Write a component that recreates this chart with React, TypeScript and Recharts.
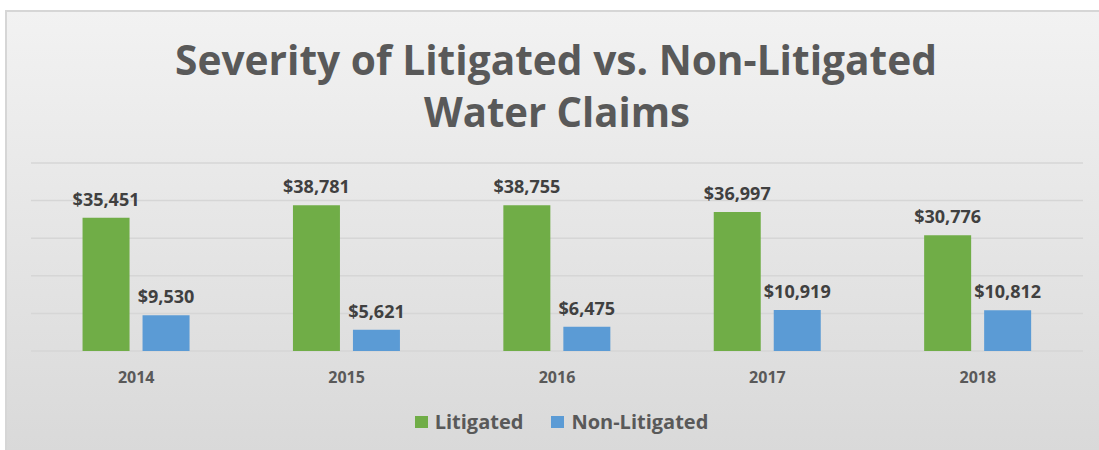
import React from 'react';
import { BarChart, Bar, XAxis, YAxis, CartesianGrid, Legend, LabelList } from 'recharts';

const YEARS = ['2014', '2015', '2016', '2017', '2018'];
const LITIGATED = [35451, 38781, 38755, 36997, 30776];
const NON_LITIGATED = [9530, 5621, 6475, 10919, 10812];
const Y_TICKS = [0, 10000, 20000, 30000, 40000, 50000];

const data = YEARS.map((year, i) => ({ year, litigated: LITIGATED[i], nonLitigated: NON_LITIGATED[i] }));

const FONT = '"Open Sans", "Noto Sans", sans-serif';
const fmt = (v: any) => `$${Number(v).toLocaleString('en-US')}`;

const LegendContent = () => (
  <div style={{ display: 'flex', justifyContent: 'center', alignItems: 'center', fontFamily: FONT, fontWeight: 700, fontSize: 20, color: '#595959' }}>
    <span style={{ display: 'inline-block', width: 13, height: 12, background: '#70ad47', marginRight: 7 }} />
    <span style={{ marginRight: 28 }}>Litigated</span>
    <span style={{ display: 'inline-block', width: 13, height: 12, background: '#5b9bd5', marginRight: 7 }} />
    <span>Non-Litigated</span>
  </div>
);

export default function App() {
  return (
    <div style={{ position: 'relative', width: 1099, height: 450, background: '#fff', overflow: 'hidden' }}>
      <style>{'body{margin:0}'}</style>
      <div style={{ position: 'absolute', left: 5, top: 10, width: 1094, height: 440, borderTop: '2px solid #d6d6d6', borderLeft: '2px solid #d6d6d6', background: 'linear-gradient(#f2f2f2, #d9d9d9)' }} />
      <svg width={1099} height={150} style={{ position: 'absolute', left: 0, top: 0 }}>
        <text x={556} y={75} textAnchor="middle" textLength={762} lengthAdjust="spacingAndGlyphs" style={{ fontFamily: FONT, fontWeight: 700, fontSize: 42, fill: '#595959' }}>Severity of Litigated vs. Non-Litigated</text>
        <text x={557} y={127} textAnchor="middle" textLength={266} lengthAdjust="spacingAndGlyphs" style={{ fontFamily: FONT, fontWeight: 700, fontSize: 42, fill: '#595959' }}>Water Claims</text>
      </svg>
      <div style={{ position: 'absolute', left: 0, top: 0 }}>
        <BarChart width={1099} height={450} data={data} margin={{ top: 163, right: 16, left: 31, bottom: 32 }} barGap={13} barCategoryGap="24.5%">
          <CartesianGrid horizontal vertical={false} stroke="#d6d6d6" strokeWidth={1.5} />
          <XAxis dataKey="year" axisLine={false} tickLine={false} height={40} tick={{ fontFamily: FONT, fontWeight: 700, fontSize: 16, fill: '#595959' }} dy={13} />
          <YAxis hide domain={[0, 50000]} ticks={Y_TICKS} />
          <Legend content={<LegendContent />} wrapperStyle={{ top: 408, left: 12, width: 1099 }} />
          <Bar dataKey="litigated" name="Litigated" fill="#70ad47" isAnimationActive={false}>
            <LabelList dataKey="litigated" position="top" offset={12} formatter={fmt} style={{ fontFamily: FONT, fontWeight: 700, fontSize: 18, fill: '#404040' }} />
          </Bar>
          <Bar dataKey="nonLitigated" name="Non-Litigated" fill="#5b9bd5" isAnimationActive={false}>
            <LabelList dataKey="nonLitigated" position="top" offset={12} formatter={fmt} style={{ fontFamily: FONT, fontWeight: 700, fontSize: 18, fill: '#404040' }} />
          </Bar>
        </BarChart>
      </div>
    </div>
  );
}
